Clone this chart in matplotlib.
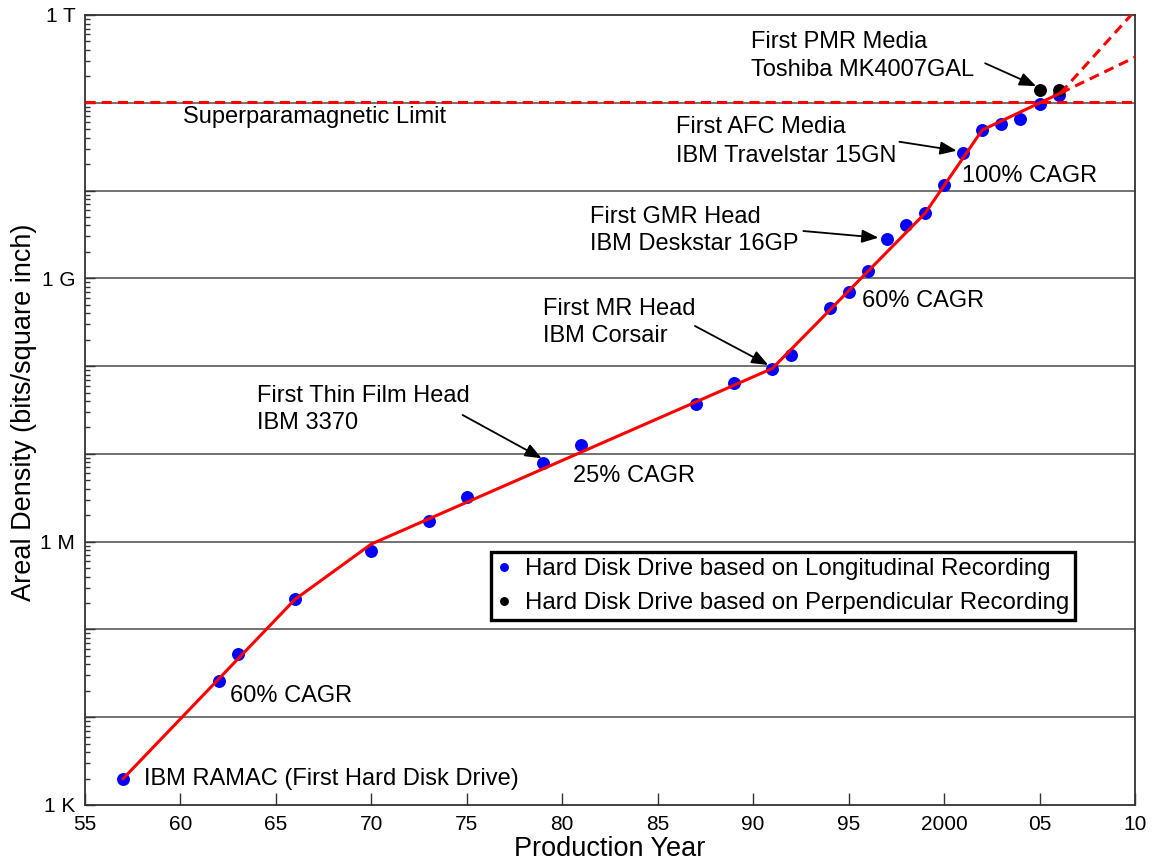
import matplotlib
matplotlib.use('Agg')
import matplotlib.pyplot as plt
from matplotlib.ticker import FixedLocator, LogLocator, NullFormatter, FixedFormatter

plt.rcParams['font.family'] = ['Liberation Sans', 'DejaVu Sans']

# ---------------- data ----------------
long_years = [1957, 1962, 1963, 1966, 1970, 1973, 1975, 1979, 1981, 1987, 1989,
              1991, 1992, 1994, 1995, 1996, 1997, 1998, 1999, 2000, 2001, 2002,
              2003, 2004, 2005, 2006]
long_density = [2.0e3, 2.6e4, 5.2e4, 2.2e5, 7.8e5, 1.74e6, 3.2e6, 7.9e6, 1.26e7,
                3.7e7, 6.5e7, 9.3e7, 1.35e8, 4.6e8, 6.9e8, 1.2e9, 2.8e9, 4.0e9,
                5.5e9, 1.17e10, 2.7e10, 4.9e10, 5.8e10, 6.6e10, 9.8e10, 1.23e11]
perp_years = [2005, 2006]
perp_density = [1.4e11, 1.4e11]

trend_years = [1957, 1966, 1970, 1991, 1999, 2002, 2006.1]
trend_density = [2.0e3, 2.2e5, 9.4e5, 9.4e7, 5.5e9, 4.9e10, 1.29e11]

proj_years = [2006.1, 2010]
proj_fast = [1.29e11, 1.12e12]
proj_slow = [1.29e11, 3.3e11]

limit_density = 1.02e11

x_ticks = [1955, 1960, 1965, 1970, 1975, 1980, 1985, 1990, 1995, 2000, 2005, 2010]
x_tick_labels = ['55', '60', '65', '70', '75', '80', '85', '90', '95', '2000', '05', '10']
y_label_values = [1e3, 1e6, 1e9, 1e12]
y_tick_labels = ['1 K', '1 M', '1 G', '1 T']
decades = [10.0 ** k for k in range(3, 13)]

# ---------------- figure ----------------
fig = plt.figure(figsize=(11.52, 8.65), dpi=100)
ax = fig.add_axes([85 / 1152, 60 / 865, 1050 / 1152, 790 / 865])
ax.set_yscale('log')
ax.set_xlim(1955, 2010)
ax.set_ylim(1e3, 1e12)

# gridlines at every decade
for d in decades[1:-1]:
    ax.axhline(d, color='#5a5a5a', lw=1.2, zorder=1)

# superparamagnetic limit
ax.axhline(limit_density, color='#ff0000', lw=2.2, dashes=(3.3, 2.0), zorder=5)

# data points
ax.plot(long_years, long_density, 'o', color='#0000ff', ms=8.3, mec='#0000ff',
        zorder=3, label='Hard Disk Drive based on Longitudinal Recording')
ax.plot(perp_years, perp_density, 'o', color='black', ms=8.3, mec='black',
        zorder=3, label='Hard Disk Drive based on Perpendicular Recording')

# trend and projections
ax.plot(trend_years, trend_density, '-', color='#ff0000', lw=2.2, zorder=4)
ax.plot(proj_years, proj_fast, color='#ff0000', lw=2.2, dashes=(3.3, 2.0), zorder=4)
ax.plot(proj_years, proj_slow, color='#ff0000', lw=2.2, dashes=(3.3, 2.0), zorder=4)

# axes styling
for s in ax.spines.values():
    s.set_color('#333333')
    s.set_linewidth(1.3)

ax.xaxis.set_major_locator(FixedLocator(x_ticks))
ax.xaxis.set_major_formatter(FixedFormatter(x_tick_labels))
ax.tick_params(axis='x', which='both', direction='in', length=8.5, width=1.0,
               labelsize=15, pad=7, top=False, color='#333333')

ax.yaxis.set_major_locator(FixedLocator(decades))
ax.yaxis.set_major_formatter(FixedFormatter(
    [y_tick_labels[y_label_values.index(d)] if d in y_label_values else '' for d in decades]))
ax.yaxis.set_minor_locator(LogLocator(base=10, subs=range(2, 10), numticks=20))
ax.yaxis.set_minor_formatter(NullFormatter())
ax.tick_params(axis='y', which='major', direction='in', length=7, width=1.0,
               labelsize=15, pad=7, right=False, color='#333333')
ax.tick_params(axis='y', which='minor', direction='in', length=3.6, width=1.0,
               right=False, color='#333333')

ax.set_xlabel('Production Year', fontsize=19.5)
ax.xaxis.set_label_coords(0.5, -0.039)
ax.set_ylabel('Areal Density (bits/square inch)', fontsize=19.5, va='center')
ax.yaxis.set_label_coords(-0.058, 0.497)

# ---------------- annotations ----------------
fs = 17
texts = [
    ('First PMR Media', 1989.89, 10 ** 11.624),
    ('Toshiba MK4007GAL', 1989.89, 10 ** 11.305),
    ('Superparamagnetic Limit', 1960.13, 10 ** 10.770),
    ('First AFC Media', 1985.96, 10 ** 10.656),
    ('IBM Travelstar 15GN', 1985.96, 10 ** 10.325),
    ('100% CAGR', 2000.94, 10 ** 10.097),
    ('First GMR Head', 1981.45, 10 ** 9.630),
    ('IBM Deskstar 16GP', 1981.45, 10 ** 9.323),
    ('60% CAGR', 1995.70, 10 ** 8.673),
    ('First MR Head', 1978.99, 10 ** 8.582),
    ('IBM Corsair', 1978.99, 10 ** 8.278),
    ('First Thin Film Head', 1964.01, 10 ** 7.595),
    ('IBM 3370', 1964.01, 10 ** 7.283),
    ('25% CAGR', 1980.55, 10 ** 6.683),
    ('60% CAGR', 1962.60, 10 ** 4.177),
    ('IBM RAMAC (First Hard Disk Drive)', 1958.09, 10 ** 3.228),
]
for t, x, y in texts:
    ax.text(x, y, t, fontsize=fs, ha='left', va='baseline', color='black', zorder=6)

arrows = [
    ((2002.15, 10 ** 11.45), (2004.82, 10 ** 11.19)),
    ((1997.66, 10 ** 10.556), (2000.66, 10 ** 10.454)),
    ((1992.63, 10 ** 9.539), (1996.56, 10 ** 9.463)),
    ((1986.95, 10 ** 8.457), (1990.79, 10 ** 8.013)),
    ((1974.78, 10 ** 7.443), (1978.92, 10 ** 6.95)),
]
for start, tip in arrows:
    ax.annotate('', xy=tip, xytext=start,
                arrowprops=dict(arrowstyle='-|>,head_length=0.5,head_width=0.2',
                                color='black', lw=1.3,
                                mutation_scale=20, shrinkA=0, shrinkB=0),
                zorder=6)

leg = ax.legend(loc='upper left', bbox_to_anchor=((491 - 85) / 1050, (805 - 552) / 790),
                borderaxespad=0, fontsize=17.3, markerscale=0.65, handlelength=0.62,
                handletextpad=0.55, borderpad=0.25, labelspacing=0.5,
                fancybox=False, framealpha=1, edgecolor='black')
leg.get_frame().set_linewidth(2.4)
leg.set_zorder(7)

fig.savefig('out.png', dpi=100, facecolor='white')
